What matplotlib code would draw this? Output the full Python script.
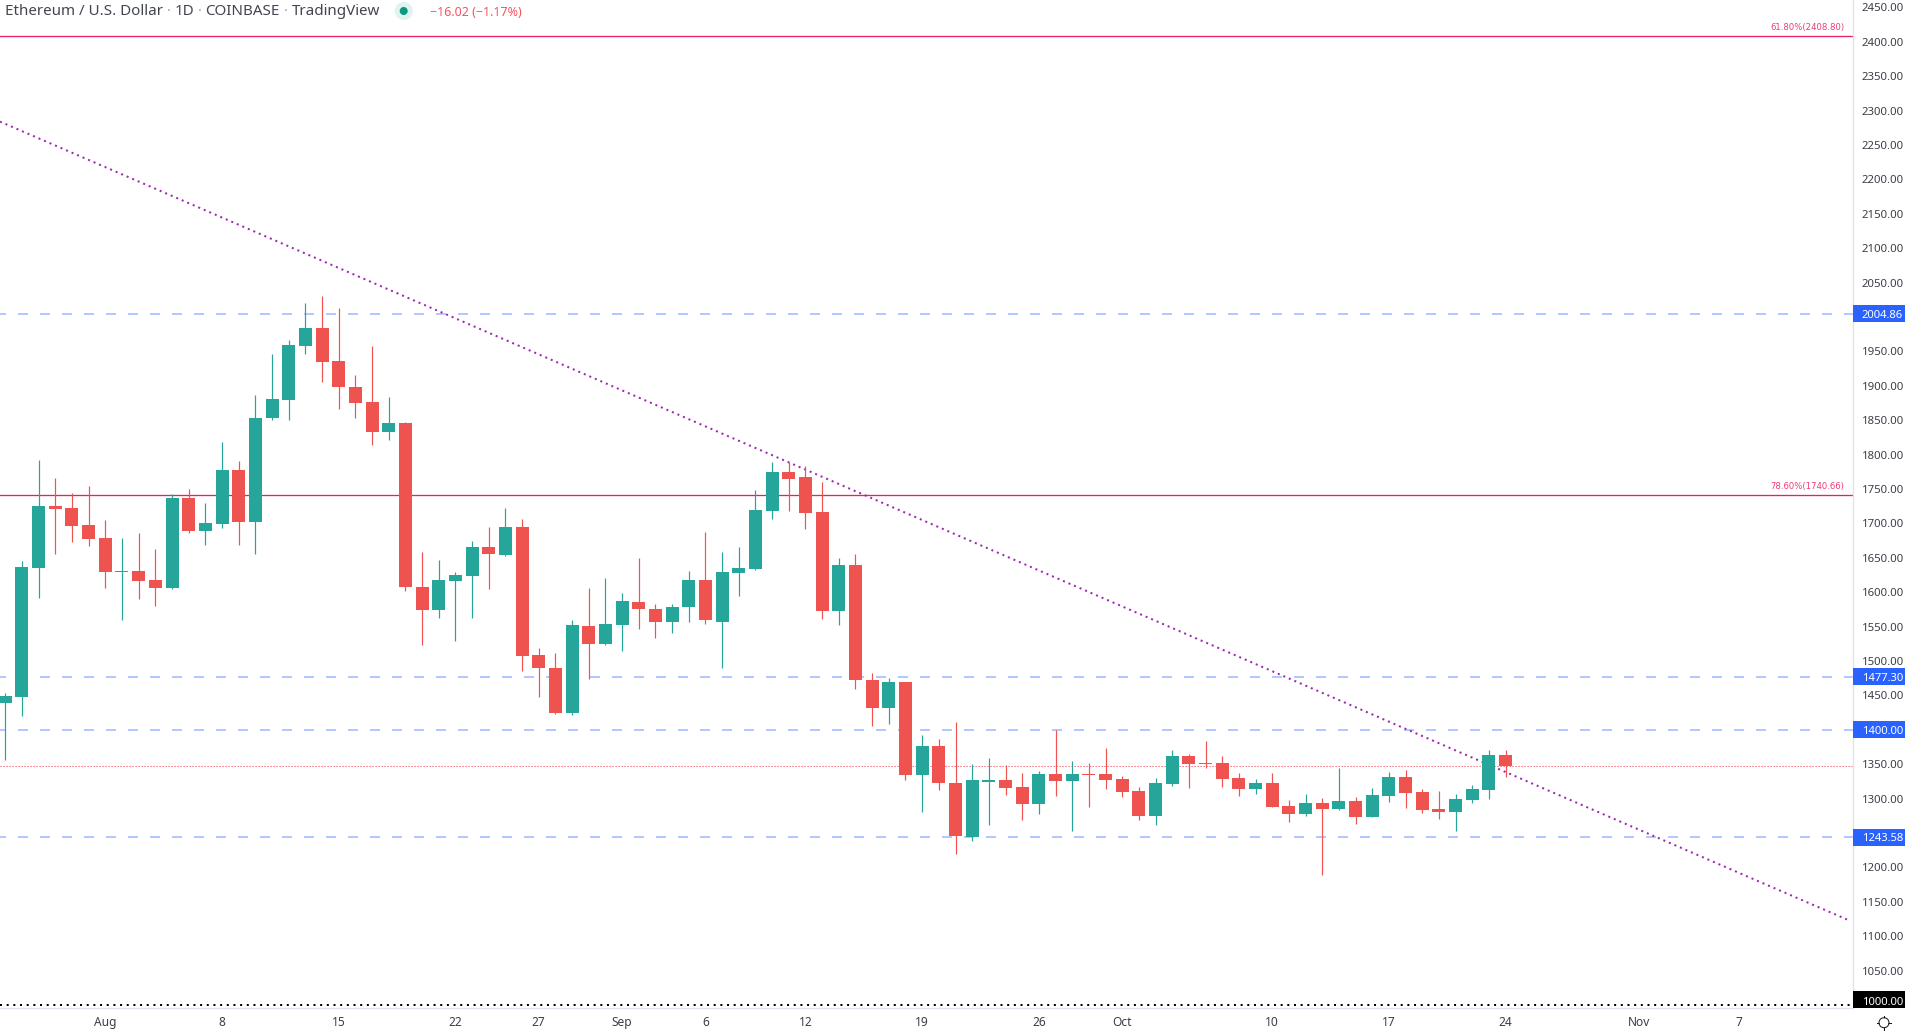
import matplotlib
matplotlib.use("Agg")
import matplotlib.pyplot as plt
import pandas as pd
from matplotlib.patches import Rectangle, Circle
from matplotlib.transforms import blended_transform_factory

plt.rcParams['font.family'] = ['Noto Sans', 'DejaVu Sans']
plt.rcParams['lines.scale_dashes'] = False

# ---------- data ----------
start_date = "2022-07-26"
opens = [1439,1448,1635,1725,1722,1698,1679,1630,1631,1618,1606,1737,1689,1699,1778,1702,1853,1879,1958,1984,
         1936,1898,1876,1833,1846,1608,1574,1616,1624,1666,1654,1695,1508,1490,1425,1551,1524,1553,1586,1576,
         1556,1578,1618,1557,1628,1634,1718,1775,1767,1717,1573,1639,1473,1432,1469,1334,1377,1323,1244,1324,
         1327,1317,1292,1336,1326,1336,1336,1329,1311,1275,1321,1362,1352,1352,1330,1314,1323,1289,1278,1294,
         1285,1297,1273,1304,1331,1310,1285,1281,1298,1312,1363]
highs = [1453,1645,1792,1766,1744,1754,1705,1679,1686,1663,1743,1750,1730,1818,1791,1887,1946,1967,2020,2031,
         2013,1916,1958,1884,1847,1658,1647,1629,1674,1695,1723,1707,1519,1511,1560,1606,1620,1599,1650,1583,
         1583,1631,1687,1658,1665,1748,1789,1789,1783,1760,1650,1656,1483,1476,1470,1393,1386,1412,1350,1359,
         1349,1337,1340,1400,1355,1352,1374,1333,1317,1330,1371,1365,1384,1362,1337,1329,1337,1298,1307,1301,
         1345,1302,1315,1339,1342,1314,1311,1307,1320,1371,1371]
lows = [1356,1420,1592,1656,1673,1667,1606,1560,1590,1580,1605,1686,1669,1693,1669,1656,1850,1850,1946,1906,
        1866,1853,1814,1821,1602,1523,1563,1529,1563,1605,1653,1486,1447,1423,1421,1474,1523,1514,1547,1534,
        1541,1557,1554,1490,1595,1632,1707,1718,1692,1561,1553,1459,1405,1409,1327,1280,1313,1220,1238,1262,
        1305,1269,1278,1304,1253,1288,1314,1302,1269,1262,1318,1315,1345,1317,1304,1307,1288,1266,1275,1189,
        1283,1263,1273,1295,1286,1279,1270,1253,1294,1300,1331]
closes = [1449,1637,1725,1721,1696,1677,1629,1631,1616,1606,1737,1689,1701,1778,1702,1853,1881,1959,1984,1935,
          1898,1875,1833,1846,1608,1574,1618,1625,1666,1656,1695,1507,1490,1425,1552,1524,1554,1587,1575,1556,
          1579,1618,1559,1630,1635,1720,1775,1765,1715,1573,1639,1472,1432,1469,1334,1376,1322,1245,1327,1327,
          1315,1292,1336,1326,1336,1334,1327,1310,1275,1323,1362,1350,1350,1329,1314,1323,1288,1278,1294,1285,
          1297,1273,1305,1331,1308,1283,1281,1299,1314,1363,1346.7]

level_prices = [2004.86, 1477.30, 1400.00, 1243.58]
level_labels = ["2004.86", "1477.30", "1400.00", "1243.58"]
support_price = 1000.00
fib_prices = [2408.80, 1740.66]
fib_labels = ["61.80%(2408.80)", "78.60%(1740.66)"]
last_price = 1346.7
trend_days = [-0.32, 110.55]
trend_prices = [2284, 1123.5]
price_ticks = [p for p in range(1050, 2451, 50) if p not in (2000, 1400, 1250)]
date_ticks = ["2022-08-01","2022-08-08","2022-08-15","2022-08-22","2022-08-27","2022-09-01","2022-09-06",
              "2022-09-12","2022-09-19","2022-09-26","2022-10-01","2022-10-10","2022-10-17","2022-10-24",
              "2022-11-01","2022-11-07"]
date_labels = ["Aug","8","15","22","27","Sep","6","12","19","26","Oct","10","17","24","Nov","7"]

# ---------- layout ----------
W, H = 1905, 1031
AX_R, AX_B = 1852.7, 1008
GREEN, RED = "#26a69a", "#ef5350"
BLUE, PINK, PURPLE = "#2962ff", "#e91e63", "#9c27b0"
DASH = "#b3c8ff"
GRID = "#e0e3eb"
px = 0.72  # points per pixel at dpi 100

fig = plt.figure(figsize=(W/100, H/100), dpi=100, facecolor="white")
ax = fig.add_axes([0, 1-AX_B/H, AX_R/W, AX_B/H])
ax.set_xlim(-0.318, 110.82)
ax.set_ylim(995.64, 2460.76)
for s in ("top", "left"):
    ax.spines[s].set_visible(False)
for s in ("right", "bottom"):
    ax.spines[s].set_color(GRID)
    ax.spines[s].set_linewidth(1.3*px)

t0 = pd.Timestamp(start_date)
days = list(range(len(opens)))

# reference lines under the candles
for p in fib_prices:
    ax.axhline(p, color=PINK, lw=1.3*px, zorder=1)
for p in level_prices:
    ax.axhline(p, color=DASH, lw=2*px, zorder=1, dash_capstyle="butt",
               linestyle=(4*px, (10*px, 12*px)))
ax.axhline(support_price, color="black", lw=2*px, zorder=1, dash_capstyle="butt",
           linestyle=(0, (2*px, 4.67*px)))
ax.axhline(last_price, color="#f7525f", lw=1*px, zorder=1, dash_capstyle="butt",
           linestyle=(0, (1.2*px, 1.8*px)))
ax.plot(trend_days, trend_prices, color=PURPLE, lw=2*px, zorder=1.5, dash_capstyle="butt",
        linestyle=(0, (2*px, 4*px)))

# candles
for d, o, h, l, c in zip(days, opens, highs, lows, closes):
    col = GREEN if c >= o else RED
    ax.vlines(d, l, h, color=col, lw=1.2*px, zorder=3)
    ax.bar(d, abs(c-o), bottom=min(o, c), width=0.78, color=col, linewidth=0, zorder=3)

# axes ticks
ax.yaxis.tick_right()
ax.set_yticks(price_ticks)
ax.set_yticklabels([f"{p:.2f}" for p in price_ticks])
ax.tick_params(axis="y", length=0, pad=6.5, labelsize=8.2, labelcolor="#3b3e48")
ax.set_xticks([(pd.Timestamp(d)-t0).days for d in date_ticks])
ax.set_xticklabels(date_labels)
ax.tick_params(axis="x", length=0, pad=5.5, labelsize=8.6, labelcolor="#3b3e48")

# price boxes on the axis
bt = blended_transform_factory(ax.transAxes, ax.transData)
box_w = (W-AX_R)/AX_R
box_h = 17/0.688
for p, lab in zip(level_prices, level_labels):
    ax.add_patch(Rectangle((1, p-box_h/2), box_w, box_h, transform=bt, color=BLUE, clip_on=False, lw=0, zorder=5))
    ax.text(1+9/AX_R, p, lab, transform=bt, color="white", fontsize=8.1, weight="semibold",
            va="center_baseline", ha="left", clip_on=False, zorder=6)
ax.add_patch(Rectangle((1, 995.64), box_w, box_h, transform=bt, color="black", clip_on=False, lw=0, zorder=5))
ax.text(1+9/AX_R, 1006, f"{support_price:.2f}", transform=bt, color="white", fontsize=8.1, weight="semibold",
        va="center_baseline", ha="left", clip_on=False, zorder=6)

# fib labels
for p, lab in zip(fib_prices, fib_labels):
    ax.annotate(lab, xy=(1, p), xycoords=bt, xytext=(-8*px, 8.7*px), textcoords="offset points",
                ha="right", va="center", fontsize=6.1, color="#ee3a7a",
                family=["DejaVu Sans"])

# overlay in pixel coordinates for header and icon
ov = fig.add_axes([0, 0, 1, 1], facecolor="none")
ov.set_xlim(0, W)
ov.set_ylim(H, 0)
ov.axis("off")

fig.canvas.draw()
rend = fig.canvas.get_renderer()
x = 5
parts = [("Ethereum / U.S. Dollar", "#434651"), (" · ", "#a8abb5"), ("1D", "#434651"), (" · ", "#a8abb5"),
         ("COINBASE", "#434651"), (" · ", "#a8abb5"), ("TradingView", "#434651")]
for s, c in parts:
    t = ov.text(x, 11.5, s, color=c, fontsize=10.9, va="center", ha="left")
    bb = t.get_window_extent(rend)
    if s.strip() == "·":
        x += 11.5
    else:
        x = bb.x1
ov.add_patch(Circle((403.7, 11), 9, color="#dff3ef", lw=0))
ov.add_patch(Circle((403.7, 11), 4, color="#089981", lw=0))
ov.text(430, 12, "\u221216.02 (\u22121.17%)", color="#f7525f", fontsize=9.0, va="center", ha="left")

# settings icon
ov.add_patch(Circle((1884, 1022.7), 5, fill=False, ec="#131722", lw=1*px))
ov.plot([1884, 1884], [1015.5, 1030], color="#131722", lw=1*px, zorder=0)
ov.plot([1876.8, 1891.2], [1022.7, 1022.7], color="#131722", lw=1*px, zorder=0)
ov.add_patch(Circle((1884, 1022.7), 4.4, color="white", lw=0, zorder=0.5))

fig.savefig("out.png", dpi=100, facecolor="white")
